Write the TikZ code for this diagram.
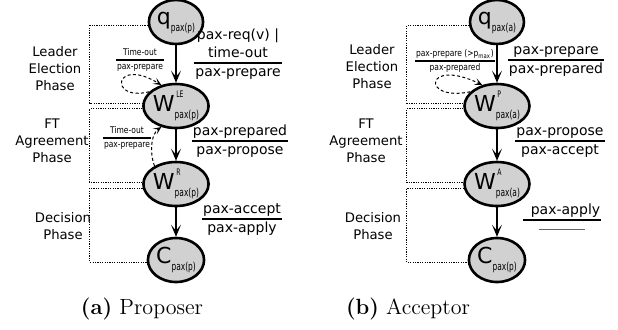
\documentclass[tikz,border=0pt]{standalone}
\usepackage{fontspec}
\usetikzlibrary{shapes.geometric,arrows.meta}
\newfontfamily\sansfnt{DejaVu Sans}
\newfontfamily\condfnt[FakeStretch=0.68]{DejaVu Sans}
\newfontfamily\smallfnt[FakeStretch=0.82]{DejaVu Sans}
\setlength{\arrayrulewidth}{0.6pt}
% state name: letter, superscript, subscript
\newcommand{\stname}[3]{{\sansfnt\fontsize{11}{12}\selectfont #1}\raisebox{7pt}{\rlap{\hspace{0.8pt}\condfnt\fontsize{4.5}{5}\selectfont #2}}\raisebox{-3.6pt}{\condfnt\fontsize{5.5}{6}\selectfont #3}}
% transition label: input over output
\newcommand{\trans}[2]{{\sansfnt\fontsize{7}{9}\selectfont\setlength{\tabcolsep}{0.5pt}\begin{tabular}{c}#1\\\hline #2\end{tabular}}}
\newcommand{\looptrans}[2]{{\smallfnt\fontsize{4.6}{6.5}\selectfont\setlength{\tabcolsep}{0.5pt}\begin{tabular}{c}#1\\\hline #2\end{tabular}}}

\begin{document}
\begin{tikzpicture}
  [x=0.5pt,y=-0.5pt,
   state/.style={ellipse,draw,line width=1.3pt,fill=black!18,minimum width=24pt,minimum height=22pt,inner sep=0pt},
   go/.style={-{Stealth[length=6pt,width=5pt,inset=3pt]},line width=0.6pt},
   again/.style={-{Stealth[length=4pt,width=3.5pt,inset=2pt]},line width=0.5pt,dash pattern=on 1.5pt off 1.2pt},
   phase/.style={line width=0.5pt,dash pattern=on 0.6pt off 0.6pt},
   phaselabel/.style={font=\sansfnt\fontsize{6.6}{8.5}\selectfont,align=center},
   caption/.style={font=\fontsize{11}{13}\selectfont}]
  \useasboundingbox (0,0) rectangle (618,329);

  % (a) proposer
  \node[state] (q1) at (176,22) {\stname{q}{}{pax(p)}};
  \node[state] (le) at (176,106) {\stname{W}{LE}{pax(p)}};
  \node[state] (wr) at (176,184) {\stname{W}{R}{pax(p)}};
  \node[state] (c1) at (176,260) {\stname{C}{}{pax(p)}};
  \foreach \from/\to in {q1/le,le/wr,wr/c1}
    \draw[go] (\from) -- (\to);

  \coordinate (lx) at (90,0);
  \draw[phase] (q1.187) -- (q1.187 -| lx) |- (le.175);
  \draw[phase] (le.185) -- (le.185 -| lx) |- (wr.178);
  \draw[phase] (wr.187) -- (wr.187 -| lx) |- (c1.185);
  \node[phaselabel] (lep1) at (55,69) {Leader\\Election\\Phase};
  \node[phaselabel] (fta1) at (52,141) {FT\\Agreement\\Phase};
  \node[phaselabel] (dp1) at (63,226) {Decision\\Phase};

  \node (t1) at (238,54) {\trans{pax-req(v) |\\time-out}{pax-prepare}};
  \node (t2) at (240,141) {\trans{pax-prepared}{pax-propose}};
  \node (t3) at (242,219) {\trans{pax-accept}{pax-apply}};

  \node (l1) at (140,60) {\looptrans{Time-out}{pax-prepare}};
  \draw[again] (le.152) .. controls (108,102) and (114,56) .. (le.125);
  \node (l2) at (127,138) {\looptrans{Time-out}{pax-prepare}};
  \draw[again] (wr.140) .. controls (150,155) and (150,135) .. (le.235);

  % (b) acceptor
  \node[state] (q2) at (497,22) {\stname{q}{}{pax(a)}};
  \node[state] (wp) at (497,106) {\stname{W}{P}{pax(a)}};
  \node[state] (wa) at (497,184) {\stname{W}{A}{pax(a)}};
  \node[state] (c2) at (497,260) {\stname{C}{}{pax(p)}};
  \foreach \from/\to in {q2/wp,wp/wa,wa/c2}
    \draw[go] (\from) -- (\to);

  \coordinate (rx) at (407,0);
  \draw[phase] (q2.187) -- (q2.187 -| rx) |- (wp.175);
  \draw[phase] (wp.185) -- (wp.185 -| rx) |- (wa.178);
  \draw[phase] (wa.187) -- (wa.187 -| rx) |- (c2.185);
  \node[phaselabel] (lep2) at (372,67) {Leader\\Election\\Phase};
  \node[phaselabel] (fta2) at (366,141) {FT\\Agreement\\Phase};
  \node[phaselabel] (dp2) at (373,226) {Decision\\Phase};

  \node (t4) at (556,60) {\trans{pax-prepare}{pax-prepared}};
  \node (t5) at (560,141) {\trans{pax-propose}{pax-accept}};
  \node (t6) at (562,220) {\trans{\hspace{3.5pt}pax-apply\hspace{3.5pt}}{\color{black!60}\rule[1.8pt]{23pt}{0.5pt}}};

  \node (l3) at (455,61) {\looptrans{pax-prepare (>p\textsubscript{max})}{pax-prepared}};
  \draw[again] (wp.152) .. controls (420,102) and (425,57) .. (wp.125);

  \node[caption] (cap1) at (142,309) {\textbf{(a)} Proposer};
  \node[caption] (cap2) at (408,309) {\textbf{(b)} Acceptor};
\end{tikzpicture}
\end{document}
